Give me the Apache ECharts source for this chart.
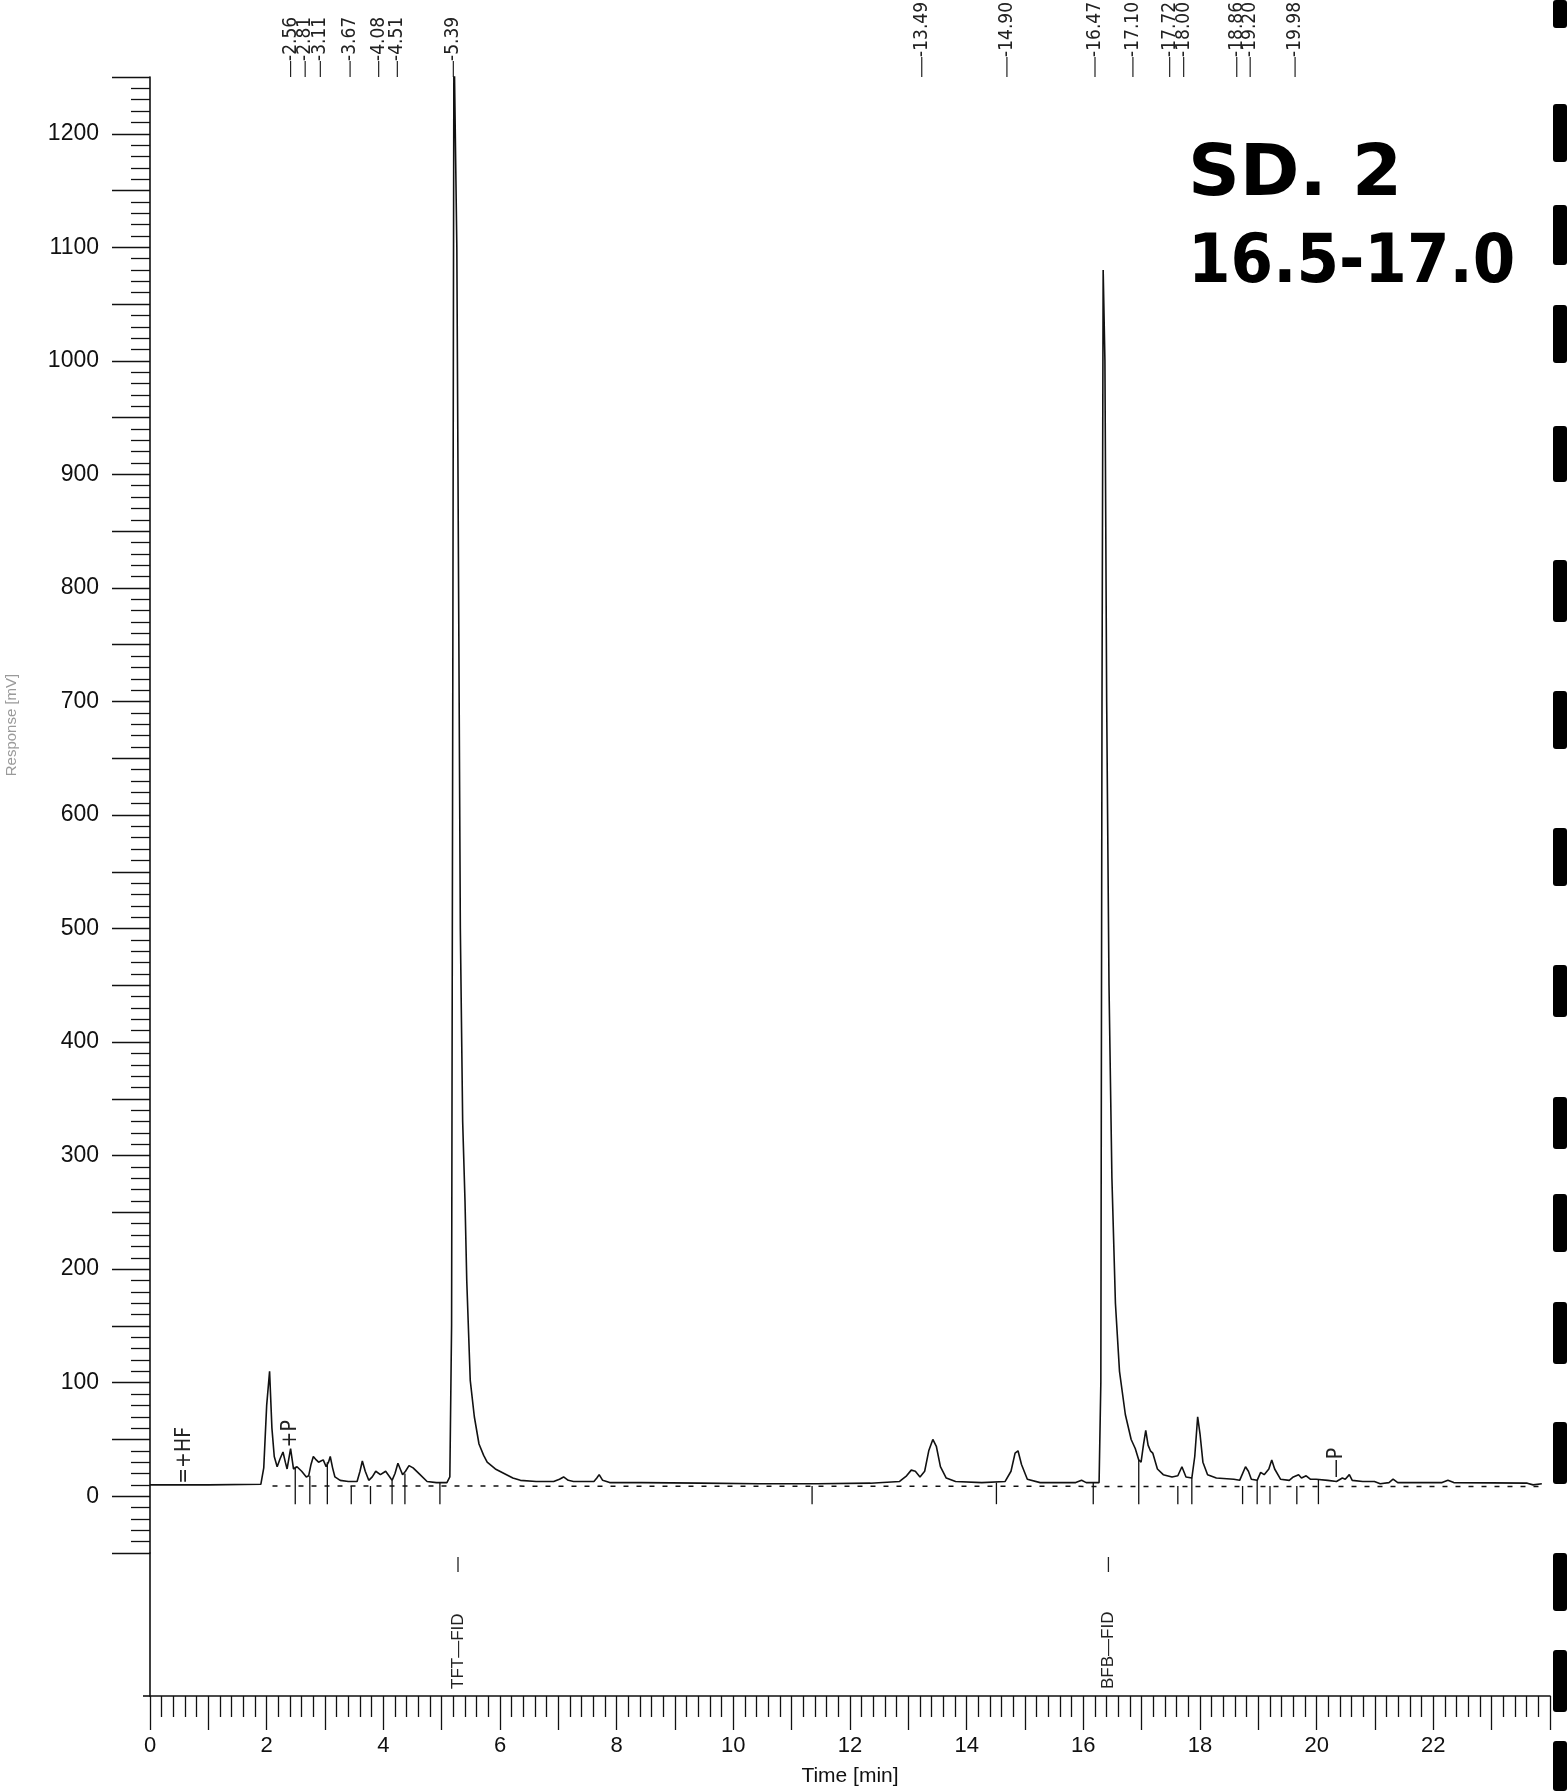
<!DOCTYPE html>
<html>
<head>
<meta charset="utf-8">
<script src="https://cdn.jsdelivr.net/npm/echarts@6.0.0/dist/echarts.min.js"></script>
<style>
  html, body { margin: 0; padding: 0; background: #fff; }
  #main { width: 1567px; height: 1791px; }
</style>
</head>
<body>
<div id="main"></div>
<script>
// chromatogram trace: time [min] / response [mV]
var traceTime = [0, 1.0, 1.90, 1.95, 2.0, 2.05, 2.09, 2.13, 2.18, 2.23, 2.28, 2.32, 2.35, 2.41, 2.46,
  2.52, 2.60, 2.68, 2.72, 2.76, 2.80, 2.85, 2.89, 2.93, 2.97, 3.02, 3.06, 3.09, 3.13, 3.17, 3.26,
  3.40, 3.55, 3.60, 3.64, 3.69, 3.75, 3.81, 3.87, 3.95, 4.04, 4.11, 4.15, 4.20, 4.25, 4.29, 4.33,
  4.38, 4.44, 4.51, 4.63, 4.75, 4.91, 5.09, 5.14, 5.17, 5.19, 5.21, 5.23, 5.26, 5.29, 5.32, 5.36,
  5.40, 5.43, 5.49, 5.56, 5.64, 5.72, 5.78, 5.92, 6.07, 6.22, 6.35, 6.62, 6.92, 7.02, 7.09, 7.17,
  7.26, 7.42, 7.61, 7.66, 7.70, 7.76, 7.88, 8.43, 9.43, 10.44, 11.44, 12.35, 12.85, 12.97, 13.05, 13.12,
  13.20, 13.28, 13.35, 13.42, 13.48, 13.55, 13.65, 13.81, 14.26, 14.66, 14.76, 14.83, 14.88, 14.94,
  15.04, 15.26, 15.87, 15.97, 16.05, 16.27, 16.30, 16.32, 16.34, 16.37, 16.40, 16.44, 16.49, 16.55,
  16.62, 16.72, 16.82, 16.89, 16.95, 16.99, 17.03, 17.07, 17.11, 17.15, 17.19, 17.27, 17.37, 17.52,
  17.62, 17.69, 17.76, 17.86, 17.91, 17.96, 18.00, 18.05, 18.13, 18.28, 18.58, 18.68, 18.78, 18.83,
  18.88, 18.98, 19.04, 19.10, 19.18, 19.23, 19.28, 19.38, 19.53, 19.60, 19.69, 19.74, 19.82, 19.89,
  19.99, 20.19, 20.34, 20.44, 20.49, 20.56, 20.61, 20.79, 20.99, 21.09, 21.24, 21.31, 21.39, 21.69,
  22.15, 22.25, 22.35, 23.61, 23.71, 23.86];
var traceResp = [10, 10, 10.5, 25, 80, 110, 60, 35, 26, 33, 39, 30, 24, 42, 24,
  26, 22, 17, 18, 28, 35, 32, 30, 31, 32, 26, 30, 35, 25, 17, 14,
  13, 13, 22, 31, 22, 14, 17, 22, 19, 22, 17, 14, 20, 29, 24, 19,
  22, 27, 25, 19, 13, 12, 12, 17, 150, 700, 1290, 1290, 1100, 800, 500, 330,
  260, 190, 102, 70, 46, 36, 30, 24, 20, 16, 14, 13, 13, 15, 17, 14,
  13, 13, 13, 16, 19, 14, 12, 12, 11.5, 11, 11, 11.5, 13, 18, 23, 22,
  17, 22, 40, 50, 44, 26, 16, 13, 12, 13, 22, 38, 40, 28,
  15, 12, 12, 14, 12, 12, 100, 700, 1080, 1000, 700, 450, 280, 170,
  110, 72, 50, 42, 32, 30, 45, 58, 45, 40, 38, 24, 19, 17,
  18, 26, 17, 16, 35, 70, 55, 30, 19, 16, 15, 14, 26, 22,
  15, 14, 21, 19, 24, 32, 24, 15, 14, 17, 19, 16, 18, 15,
  15, 14, 13, 16, 15, 19, 14, 13, 13, 11, 12, 15, 12, 12,
  12, 14, 12, 11.5, 10, 11];

// integration baseline (dashed) end points
var baseTime = [2.1, 23.86];
var baseResp = [9, 8.5];

// peak start/end marks below the baseline
var markTime = [2.49, 2.74, 3.04, 3.45, 3.78, 4.15, 4.37, 4.97,
  11.35, 14.51, 16.17, 16.95, 17.62, 17.86, 18.73, 18.98, 19.20, 19.66, 20.03];
var markTop = [26, 18, 30, 9, 9, 14, 20, 12,
  9, 12, 12, 32, 9, 16, 9, 14, 9, 9, 15];

// retention time labels printed along the top
var rtText = ['2.56', '2.81', '3.11', '3.67', '4.08', '4.51', '5.39',
  '13.49', '14.90', '16.47', '17.10', '17.72', '18.00', '18.86', '19.20', '19.98'];
var rtPos = [2.41, 2.66, 2.92, 3.43, 3.92, 4.24, 5.20,
  13.23, 14.69, 16.20, 16.85, 17.48, 17.72, 18.63, 18.86, 19.63];

// named compounds in the lower band
var compText = ['TFT\u2014FID', 'BFB\u2014FID'];
var compPos = [5.28, 16.43];

// timed events on the trace
var eventText = ['=+HF', '+P', '\u2014P'];
var eventTime = [0.59, 2.41, 20.34];
var eventResp = [11, 43, 16];

var yTicks = { min: -50, max: 1250, step: 50 };
var xTicks = { min: 0, max: 24, step: 1 };

var narrow = '"Liberation Sans Narrow", "DejaVu Sans Condensed", "Liberation Sans", sans-serif';
var sans = '"Liberation Sans", Arial, sans-serif';

var traceData = traceTime.map(function (t, i) { return [t, traceResp[i]]; });

var myChart = echarts.init(document.getElementById('main'));

// black punch marks along the right margin of the scan
var barY = [0, 104, 205, 305, 426, 560, 691, 828, 965, 1097, 1194, 1302, 1422, 1553, 1650, 1741];
var barH = [28, 58, 60, 58, 56, 62, 58, 58, 52, 52, 58, 62, 62, 58, 62, 50];
var bars = barY.map(function (y, i) {
  return { type: 'rect', right: 0, top: y, shape: { width: 14, height: barH[i], r: 3 }, style: { fill: '#000' } };
});

var option = {
  animation: false,
  backgroundColor: '#fff',
  grid: [
    { left: 150, right: 17, top: 77, height: 1476 },
    { left: 150, right: 17, top: 1553, height: 143 }
  ],
  xAxis: [
    { gridIndex: 0, type: 'value', min: xTicks.min, max: xTicks.max, show: false },
    {
      gridIndex: 1, type: 'value', min: xTicks.min, max: xTicks.max, interval: xTicks.step,
      name: 'Time [min]', nameLocation: 'middle', nameGap: 70,
      nameTextStyle: { fontFamily: sans, fontSize: 21, color: '#111' },
      axisLine: { lineStyle: { color: '#111', width: 1.6 } },
      axisTick: { length: 34, lineStyle: { color: '#111', width: 1.3 } },
      minorTick: { show: true, splitNumber: 5, length: 21, lineStyle: { color: '#111', width: 1.3 } },
      axisLabel: {
        fontFamily: sans, fontSize: 22, color: '#111', margin: 39,
        formatter: function (v) { return (v % 2 === 0 && v < 24) ? String(v) : ''; }
      },
      splitLine: { show: false }
    }
  ],
  yAxis: [
    {
      gridIndex: 0, type: 'value', min: yTicks.min, max: yTicks.max, interval: yTicks.step, offset: 7,
      axisLine: { show: true, lineStyle: { color: '#111', width: 1.6 } },
      axisTick: { length: 38, lineStyle: { color: '#111', width: 1.3 } },
      minorTick: { show: true, splitNumber: 5, length: 19, lineStyle: { color: '#111', width: 1.3 } },
      axisLabel: {
        fontFamily: sans, fontSize: 23, color: '#111', margin: 44,
        formatter: function (v) { return (v >= 0 && v % 100 === 0) ? String(v) : ''; }
      },
      splitLine: { show: false }
    },
    {
      gridIndex: 1, type: 'value', min: 0, max: 1, show: true, offset: 7,
      axisLine: { show: true, lineStyle: { color: '#111', width: 1.6 } },
      axisTick: { show: false }, axisLabel: { show: false }, splitLine: { show: false }
    }
  ],
  graphic: bars.concat([
    // the time axis line reaches back to the response axis
    { type: 'line', shape: { x1: 143, y1: 1696, x2: 150, y2: 1696 }, style: { stroke: '#111', lineWidth: 1.6 } },
    // faint, half cut axis title of the scan
    { type: 'text', x: 12, y: 725, rotation: Math.PI / 2,
      style: { text: 'Response [mV]', fontFamily: sans, fontSize: 15, fill: '#9a9a9a', align: 'center', verticalAlign: 'middle' } },
    { type: 'text', left: 1188, top: 140, style: { text: 'SD. 2', fontFamily: '"DejaVu Sans", sans-serif', fontWeight: 'bold', fontSize: 72, fill: '#000' } },
    { type: 'text', left: 1188, top: 230, style: { text: '16.5-17.0', fontFamily: '"DejaVu Sans Condensed", "DejaVu Sans", sans-serif', fontWeight: 'bold', fontSize: 68, fill: '#000' } }
  ]),
  series: [
    {
      name: 'trace', type: 'line', xAxisIndex: 0, yAxisIndex: 0,
      data: traceData, showSymbol: false, clip: true,
      lineStyle: { color: '#111', width: 1.6 }, z: 3
    },
    {
      name: 'baseline', type: 'line', xAxisIndex: 0, yAxisIndex: 0,
      data: baseTime.map(function (t, i) { return [t, baseResp[i]]; }),
      showSymbol: false, lineStyle: { color: '#111', width: 1.5, type: [5, 8] }, z: 2
    },
    {
      name: 'marks', type: 'custom', xAxisIndex: 0, yAxisIndex: 0,
      data: markTime.map(function (t, i) { return [t, markTop[i]]; }),
      renderItem: function (params, api) {
        var top = api.coord([api.value(0), api.value(1)]);
        var bot = api.coord([api.value(0), -7]);
        return { type: 'line', shape: { x1: top[0], y1: top[1], x2: bot[0], y2: bot[1] }, style: { stroke: '#111', lineWidth: 1.3 } };
      }
    },
    {
      name: 'rt', type: 'custom', xAxisIndex: 0, yAxisIndex: 0, clip: false,
      data: rtPos.map(function (t, i) { return [t, yTicks.max, i]; }),
      renderItem: function (params, api) {
        var p = api.coord([api.value(0), yTicks.max]);
        var i = api.value(2);
        var lead = i < 7 ? 16 : 20;
        return {
          type: 'group', children: [
            { type: 'line', shape: { x1: p[0], y1: p[1], x2: p[0], y2: p[1] - lead }, style: { stroke: '#222', lineWidth: 1.2 } },
            { type: 'text', x: p[0], y: p[1] - lead, rotation: Math.PI / 2,
              style: { text: '-' + rtText[i], fontFamily: narrow, fontSize: 19, fill: '#222', align: 'left', verticalAlign: 'middle' } }
          ]
        };
      }
    },
    {
      name: 'events', type: 'custom', xAxisIndex: 0, yAxisIndex: 0, clip: false,
      data: eventTime.map(function (t, i) { return [t, eventResp[i], i]; }),
      renderItem: function (params, api) {
        var p = api.coord([api.value(0), api.value(1)]);
        return { type: 'text', x: p[0], y: p[1], rotation: Math.PI / 2,
          style: { text: eventText[api.value(2)], fontFamily: narrow, fontSize: 21, fill: '#222', align: 'left', verticalAlign: 'middle' } };
      }
    },
    {
      name: 'compounds', type: 'custom', xAxisIndex: 1, yAxisIndex: 1, clip: false,
      data: compPos.map(function (t, i) { return [t, 0, i]; }),
      renderItem: function (params, api) {
        var p = api.coord([api.value(0), 0]);
        return {
          type: 'group', children: [
            { type: 'line', shape: { x1: p[0], y1: p[1] - 139, x2: p[0], y2: p[1] - 124 }, style: { stroke: '#222', lineWidth: 1.3 } },
            { type: 'text', x: p[0], y: p[1] - 7, rotation: Math.PI / 2,
              style: { text: compText[api.value(2)], fontFamily: sans, fontSize: 17, fill: '#222', align: 'left', verticalAlign: 'middle' } }
          ]
        };
      }
    }
  ]
};

myChart.setOption(option);
</script>
</body>
</html>
